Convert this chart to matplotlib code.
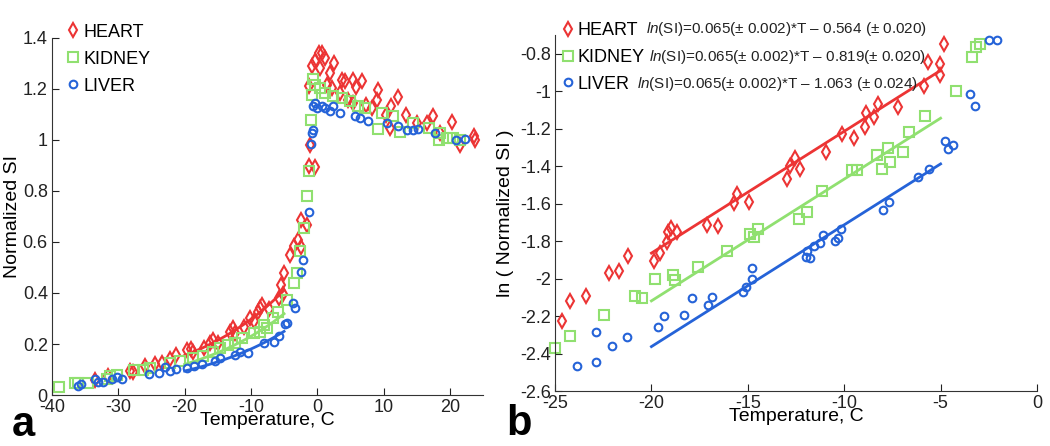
import numpy as np
import matplotlib
matplotlib.use("Agg")
import matplotlib.pyplot as plt
from matplotlib.ticker import FuncFormatter

plt.rcParams['font.family'] = ['Liberation Sans', 'DejaVu Sans']
plt.rcParams['axes.unicode_minus'] = False
plt.rcParams['mathtext.fontset'] = 'custom'
plt.rcParams['mathtext.it'] = 'Liberation Sans:italic'
plt.rcParams['mathtext.rm'] = 'Liberation Sans'

# ---------------- data: panel a (Normalized SI vs temperature) ----------------
heart_T = [-33.5, -31.6, -28.2, -27.8, -25.9, -24.5, -23.4, -22.2, -21.3, -19.7, -19.1, -18.7,
           -17.0, -16.1, -15.7, -14.9, -13.1, -12.7, -12.4, -11.0, -10.2, -9.6, -9.0, -8.6, -8.3,
           -7.3, -5.8, -5.5, -5.1, -5.0, -4.1, -3.5, -2.9, -2.4, -2.4, -1.5, -1.2, -0.3, -1.1,
           -1.2, -0.8, -0.3, 0.2, 0.7, 1.2, 0.4, 1.5, 2.6, 1.9, 3.8, 4.2, 5.4, 5.9, 6.7, 9.2,
           9.0, 11.1, 12.2, 13.4, 17.4, 16.5, 20.3, 21.5, 23.6, 23.8, 11.0, 7.4, 3.4,
           2.3, 4.6, 5.4, 8.2, 10.4, 15.0, 18.5]
heart_SI = [0.059, 0.075, 0.096, 0.092, 0.114, 0.122, 0.127, 0.141, 0.157, 0.177, 0.179, 0.170,
            0.186, 0.203, 0.216, 0.205, 0.249, 0.262, 0.242, 0.268, 0.301, 0.292, 0.327, 0.340, 0.353,
            0.336, 0.379, 0.432, 0.398, 0.478, 0.550, 0.585, 0.606, 0.582, 0.687, 0.667, 0.899, 0.892, 0.981,
            1.213, 1.289, 1.309, 1.341, 1.341, 1.321, 1.282, 1.217, 1.302, 1.262, 1.236, 1.230, 1.236, 1.208, 1.230, 1.197,
            1.158, 1.132, 1.168, 1.099, 1.095, 1.067, 1.069, 0.981, 1.014, 1.001, 1.047, 1.138, 1.184,
            1.204, 1.158, 1.145, 1.125, 1.099, 1.066, 1.027]

kidney_T = [-39.0, -36.5, -36.1, -34.5, -31.7, -31.2, -30.2, -27.7, -26.2, -25.2, -22.2, -20.7,
            -18.7, -17.2, -15.7, -14.7, -13.4, -12.4, -11.4, -9.6, -8.6, -8.1, -7.6, -6.7, -5.9,
            -4.5, -3.5, -3.0, -2.6, -2.0, -1.6, -1.3, -1.0, -0.8, -0.6, -0.3, 0.4, 1.2, 2.4, 3.7,
            4.9, 6.2, 7.2, 9.2, 9.7, 11.5, 12.5, 14.5, 16.8, 18.5, 18.3, 19.5, 20.5, 21.5]
kidney_SI = [0.030, 0.048, 0.046, 0.048, 0.061, 0.075, 0.079, 0.098, 0.098, 0.105, 0.124, 0.135,
             0.144, 0.153, 0.170, 0.183, 0.196, 0.205, 0.222, 0.242, 0.249, 0.275, 0.262, 0.301, 0.327,
             0.373, 0.441, 0.478, 0.563, 0.654, 0.779, 0.880, 1.080, 1.178, 1.237, 1.217, 1.204, 1.184, 1.171, 1.165,
             1.151, 1.132, 1.125, 1.043, 1.106, 1.093, 1.030, 1.067, 1.047, 1.027, 1.001, 1.008, 1.008, 0.999]

liver_T = [-36.1, -35.6, -33.5, -33.0, -32.3, -31.0, -30.2, -29.5, -25.4, -23.9, -22.9, -22.2,
           -21.3, -19.7, -18.6, -17.4, -15.4, -14.7, -12.4, -11.6, -10.5, -8.1, -6.5, -5.7, -4.9,
           -4.6, -3.6, -3.3, -2.4, -2.1, -1.3, -1.0, -0.8, -0.7, -0.7, -0.3, 0.0, 0.7, 1.2, 1.9,
           2.4, 3.4, 5.7, 6.4, 7.7, 10.5, 12.2, 13.5, 14.5, 15.2, 17.7, 21.0, 22.3]
liver_SI = [0.037, 0.043, 0.061, 0.052, 0.052, 0.061, 0.072, 0.063, 0.082, 0.088, 0.109, 0.096,
            0.101, 0.105, 0.114, 0.122, 0.135, 0.144, 0.157, 0.170, 0.166, 0.203, 0.209, 0.232, 0.279,
            0.284, 0.362, 0.340, 0.484, 0.530, 0.716, 0.985, 1.027, 1.040, 1.132, 1.145, 1.125, 1.132, 1.125, 1.112,
            1.132, 1.106, 1.093, 1.086, 1.073, 1.066, 1.053, 1.040, 1.040, 1.043, 1.027, 1.001, 1.004]

# ---------------- data: panel b (ln SI vs temperature) ----------------
heart_T_b = [-24.64, -24.22, -23.39, -22.18, -21.67, -21.22, -19.88, -19.57, -19.20, -19.16, -18.99,
             -18.66, -17.14, -16.55, -15.70, -15.57, -14.95, -12.96, -12.82, -12.53, -12.29, -10.97,
             -10.13, -9.51, -8.92, -8.85, -8.44, -8.26, -7.21, -5.88, -5.64, -5.03, -5.03, -4.84]
heart_ln = [-2.225, -2.122, -2.094, -1.969, -1.960, -1.880, -1.907, -1.866, -1.807, -1.754, -1.729,
            -1.752, -1.713, -1.718, -1.599, -1.551, -1.592, -1.468, -1.397, -1.358, -1.417, -1.324,
            -1.226, -1.251, -1.193, -1.116, -1.137, -1.068, -1.086, -0.972, -0.846, -0.857, -0.912, -0.747]

kidney_T_b = [-25.0, -24.22, -22.44, -20.85, -20.49, -19.83, -18.90, -18.78, -17.57, -16.10, -14.89,
              -14.68, -14.49, -12.34, -11.94, -11.15, -9.59, -9.35, -8.31, -8.04, -7.73, -7.64, -6.93,
              -6.62, -5.81, -4.22, -3.39, -3.15, -2.96]
kidney_ln = [-2.372, -2.305, -2.196, -2.091, -2.105, -2.004, -1.981, -2.007, -1.940, -1.852, -1.761,
             -1.780, -1.738, -1.681, -1.645, -1.535, -1.418, -1.418, -1.342, -1.413, -1.304, -1.377, -1.324,
             -1.216, -1.131, -1.000, -0.818, -0.764, -0.748]

liver_T_b = [-23.84, -22.88, -22.88, -22.03, -21.29, -19.64, -19.37, -18.31, -17.92, -17.05, -16.88,
             -15.27, -15.09, -14.77, -14.77, -12.00, -11.78, -11.92, -11.59, -11.28, -11.09, -10.47,
             -10.31, -10.17, -8.00, -7.67, -6.17, -5.58, -4.75, -4.61, -4.35, -3.46, -3.23, -2.47, -2.07]
liver_ln = [-2.466, -2.446, -2.283, -2.358, -2.310, -2.260, -2.198, -2.196, -2.104, -2.139, -2.098,
            -2.074, -2.043, -2.000, -1.942, -1.883, -1.889, -1.852, -1.825, -1.809, -1.766, -1.798,
            -1.786, -1.738, -1.635, -1.592, -1.459, -1.415, -1.265, -1.311, -1.285, -1.017, -1.079, -0.729, -0.729]

# fit parameters ln(SI) = slope*T - offset, fitted on T in [-20, -5]
fit_slope = 0.065
fit_offsets = {'HEART': 0.564, 'KIDNEY': 0.819, 'LIVER': 1.063}
fit_range = (-20, -5)

names = ['HEART', 'KIDNEY', 'LIVER']
eq_texts = [r'$\mathit{ln}$(SI)=0.065(± 0.002)*T – 0.564 (± 0.020)',
            r'$\mathit{ln}$(SI)=0.065(± 0.002)*T – 0.819(± 0.020)',
            r'$\mathit{ln}$(SI)=0.065(± 0.002)*T – 1.063 (± 0.024)']

colors = {'HEART': '#EC3434', 'KIDNEY': '#90E070', 'LIVER': '#2563D8'}
markers = {'HEART': 'd', 'KIDNEY': 's', 'LIVER': 'o'}
msizes = {'HEART': 7, 'KIDNEY': 6.5, 'LIVER': 5.5}

fig = plt.figure(figsize=(10.5, 4.46), dpi=100)
axa = fig.add_axes([0.0495, 0.1143, 0.4105, 0.8007])
axb = fig.add_axes([0.5286, 0.1233, 0.459, 0.7982])

fmt = FuncFormatter(lambda v, p: '%g' % round(v, 6))

data_a = {'HEART': (heart_T, heart_SI), 'KIDNEY': (kidney_T, kidney_SI), 'LIVER': (liver_T, liver_SI)}
data_b = {'HEART': (heart_T_b, heart_ln), 'KIDNEY': (kidney_T_b, kidney_ln), 'LIVER': (liver_T_b, liver_ln)}

tfit = np.linspace(fit_range[0], fit_range[1], 50)
for n in names:
    c = colors[n]
    T, v = data_a[n]
    axa.plot(T, v, linestyle='none', marker=markers[n], ms=msizes[n], mfc='none', mec=c, mew=1.5,
             label=n, clip_on=False)
    axa.plot(tfit, np.exp(fit_slope * tfit - fit_offsets[n]), color=c, lw=2)
    T, v = data_b[n]
    axb.plot(T, v, linestyle='none', marker=markers[n], ms=msizes[n], mfc='none', mec=c, mew=1.5,
             label=n, clip_on=False)
    axb.plot(tfit, fit_slope * tfit - fit_offsets[n], color=c, lw=2)

for ax in (axa, axb):
    for s in ('top', 'right'):
        ax.spines[s].set_visible(False)
    for s in ('left', 'bottom'):
        ax.spines[s].set_color('#333333')
    ax.tick_params(direction='in', length=5, labelsize=13, colors='#222222', pad=3)
    ax.xaxis.set_major_formatter(fmt)
    ax.yaxis.set_major_formatter(fmt)

leg_kw = dict(loc='upper left', frameon=False, fontsize=13, handlelength=0.6,
              handletextpad=0.25, labelspacing=0.55, borderaxespad=0)

axa.set_xlim(-40, 25)
axa.set_ylim(0, 1.4)
axa.set_xticks([-40, -30, -20, -10, 0, 10, 20])
axa.set_yticks(np.arange(0, 1.41, 0.2))
axa.set_xlabel('Temperature, C', fontsize=14, labelpad=-3)
axa.set_ylabel('Normalized SI', fontsize=14, labelpad=1)
axa.legend(bbox_to_anchor=(0.02, 1.06), **leg_kw)

axb.set_xlim(-25, 0)
axb.set_ylim(-2.6, -0.7)
axb.set_xticks([-25, -20, -15, -10, -5, 0])
axb.set_yticks(np.arange(-2.6, -0.79, 0.2))
axb.set_xlabel('Temperature, C', fontsize=14, labelpad=-3)
axb.set_ylabel('ln ( Normalized SI )', fontsize=14, labelpad=4)
axb.legend(bbox_to_anchor=(0.0, 1.057), **leg_kw)

eq_x = [646, 649, 637]
eq_y = [29, 57, 84]
for i, t in enumerate(eq_texts):
    fig.text(eq_x[i] / 1050, 1 - eq_y[i] / 446, t, fontsize=11, va='center', ha='left', color='#222222')

fig.text(12 / 1050, 1 - 436 / 446, 'a', fontsize=30, fontweight='bold', ha='left', va='baseline')
fig.text(506 / 1050, 1 - 435 / 446, 'b', fontsize=30, fontweight='bold', ha='left', va='baseline')

fig.savefig('out.png', dpi=100)
